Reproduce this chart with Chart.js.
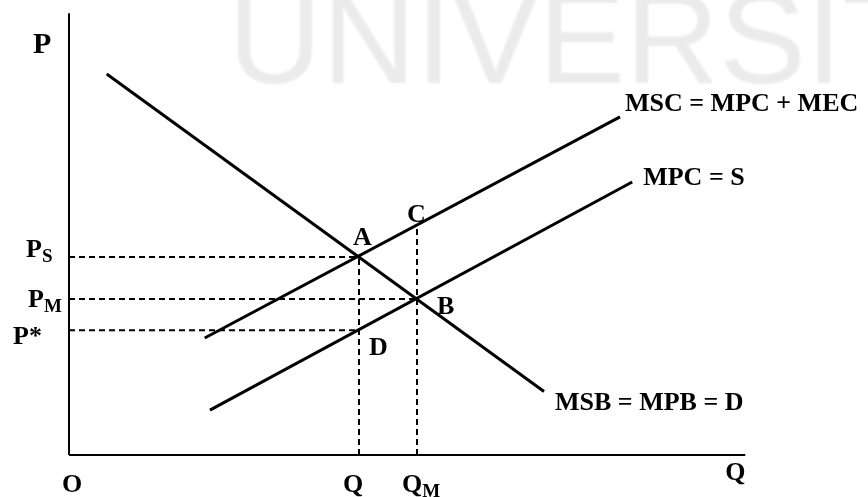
<!DOCTYPE html>
<html>
<head>
<meta charset="utf-8">
<script src="https://cdn.jsdelivr.net/npm/chart.js@4.4.1/dist/chart.umd.min.js"></script>
<style>
  html, body { margin: 0; padding: 0; background: #fff; }
  #chart { display: block; }
</style>
</head>
<body>
<canvas id="chart" width="868" height="497"></canvas>
<script>
// Quantities on the horizontal axis
const qSocial = 5;      // Q
const qMarket = 6;      // QM
const qAxisEnd = 11.66;

// Prices on the vertical axis
const pSocial = 5.08;   // PS
const pMarket = 4.0;    // PM
const pStar = 3.2;      // P*
const pC = 5.9;         // C, on MSC above QM
const pAxisEnd = 11.33;

// End points of each curve, [quantity, price]
const msbCurve = [[0.65, 9.77], [8.19, 1.63]];
const mscCurve = [[2.34, 3.0], [9.5, 8.67]];
const mpcCurve = [[2.43, 1.15], [9.71, 7.0]];

// Text placed next to a data point, offsets in pixels
const labels = [
  { text: 'P', at: [0, pAxisEnd], dx: -36, dy: 40, size: 30 },
  { text: 'P', sub: 'S', at: [0, pSocial], dx: -43, dy: 0 },
  { text: 'P', sub: 'M', at: [0, pMarket], dx: -41, dy: 8 },
  { text: 'P*', at: [0, pStar], dx: -56, dy: 14 },
  { text: 'A', at: [qSocial, pSocial], dx: -6, dy: -12 },
  { text: 'C', at: [qMarket, pC], dx: -10, dy: -3 },
  { text: 'B', at: [qMarket, pMarket], dx: 20, dy: 15 },
  { text: 'D', at: [qSocial, pStar], dx: 10, dy: 25 },
  { text: 'O', at: [0, 0], dx: -7, dy: 37 },
  { text: 'Q', at: [qSocial, 0], dx: -16, dy: 37 },
  { text: 'Q', sub: 'M', at: [qMarket, 0], dx: -15, dy: 37 },
  { text: 'Q', at: [qAxisEnd, 0], dx: -20, dy: 25 },
  { text: 'MSC = MPC + MEC', at: mscCurve[1], dx: 5, dy: -6 },
  { text: 'MPC = S', at: mpcCurve[1], dx: 11, dy: 3 },
  { text: 'MSB = MPB = D', at: msbCurve[1], dx: 11, dy: 19 }
];

function segment(points, width, dash) {
  return {
    data: points.map(p => ({ x: p[0], y: p[1] })),
    showLine: true,
    borderColor: '#000',
    borderWidth: width,
    borderDash: dash || [],
    borderCapStyle: 'butt',
    pointRadius: 0,
    fill: false,
    clip: false,
    tension: 0
  };
}

const dash = [6, 4];

const textPlugin = {
  id: 'diagramText',
  beforeDatasetsDraw(chart) {
    // faint watermark behind the diagram
    const ctx = chart.ctx;
    ctx.save();
    ctx.fillStyle = '#ebebeb';
    ctx.filter = 'blur(1px)';
    ctx.font = '130px "Liberation Sans"';
    ctx.textBaseline = 'alphabetic';
    ctx.fillText('UNIVERSIT', 228, 83);
    ctx.restore();
  },
  afterDatasetsDraw(chart) {
    const { ctx, scales: { x, y } } = chart;
    ctx.save();
    ctx.fillStyle = '#000';
    ctx.textAlign = 'left';
    ctx.textBaseline = 'alphabetic';
    labels.forEach(l => {
      const size = l.size || 26;
      const px = x.getPixelForValue(l.at[0]) + l.dx;
      const py = y.getPixelForValue(l.at[1]) + l.dy;
      ctx.font = `bold ${size}px "Liberation Serif"`;
      ctx.fillText(l.text, px, py);
      if (l.sub) {
        const w = ctx.measureText(l.text).width;
        ctx.font = `bold ${Math.round(size * 0.72)}px "Liberation Serif"`;
        ctx.fillText(l.sub, px + w, py + 5);
      }
    });
    ctx.restore();
  }
};

new Chart(document.getElementById('chart'), {
  type: 'scatter',
  data: {
    datasets: [
      // axes
      segment([[0, 0], [0, pAxisEnd]], 2),
      segment([[0, 0], [qAxisEnd, 0]], 2),
      // dashed guides
      segment([[0, pSocial], [qSocial, pSocial]], 2, dash),
      segment([[0, pMarket], [qMarket, pMarket]], 2, dash),
      segment([[0, pStar], [qSocial, pStar]], 2, dash),
      segment([[qSocial, 0], [qSocial, pSocial]], 2, dash),
      segment([[qMarket, 0], [qMarket, pC]], 2, dash),
      // curves
      segment(msbCurve, 3),
      segment(mscCurve, 3),
      segment(mpcCurve, 3)
    ]
  },
  options: {
    responsive: false,
    animation: false,
    layout: { padding: { left: 69, right: 103, top: 6.5, bottom: 42 } },
    scales: {
      x: { type: 'linear', min: 0, max: 12, display: false },
      y: { type: 'linear', min: 0, max: 11.5, display: false }
    },
    plugins: {
      legend: { display: false },
      tooltip: { enabled: false }
    }
  },
  plugins: [textPlugin]
});
</script>
</body>
</html>
